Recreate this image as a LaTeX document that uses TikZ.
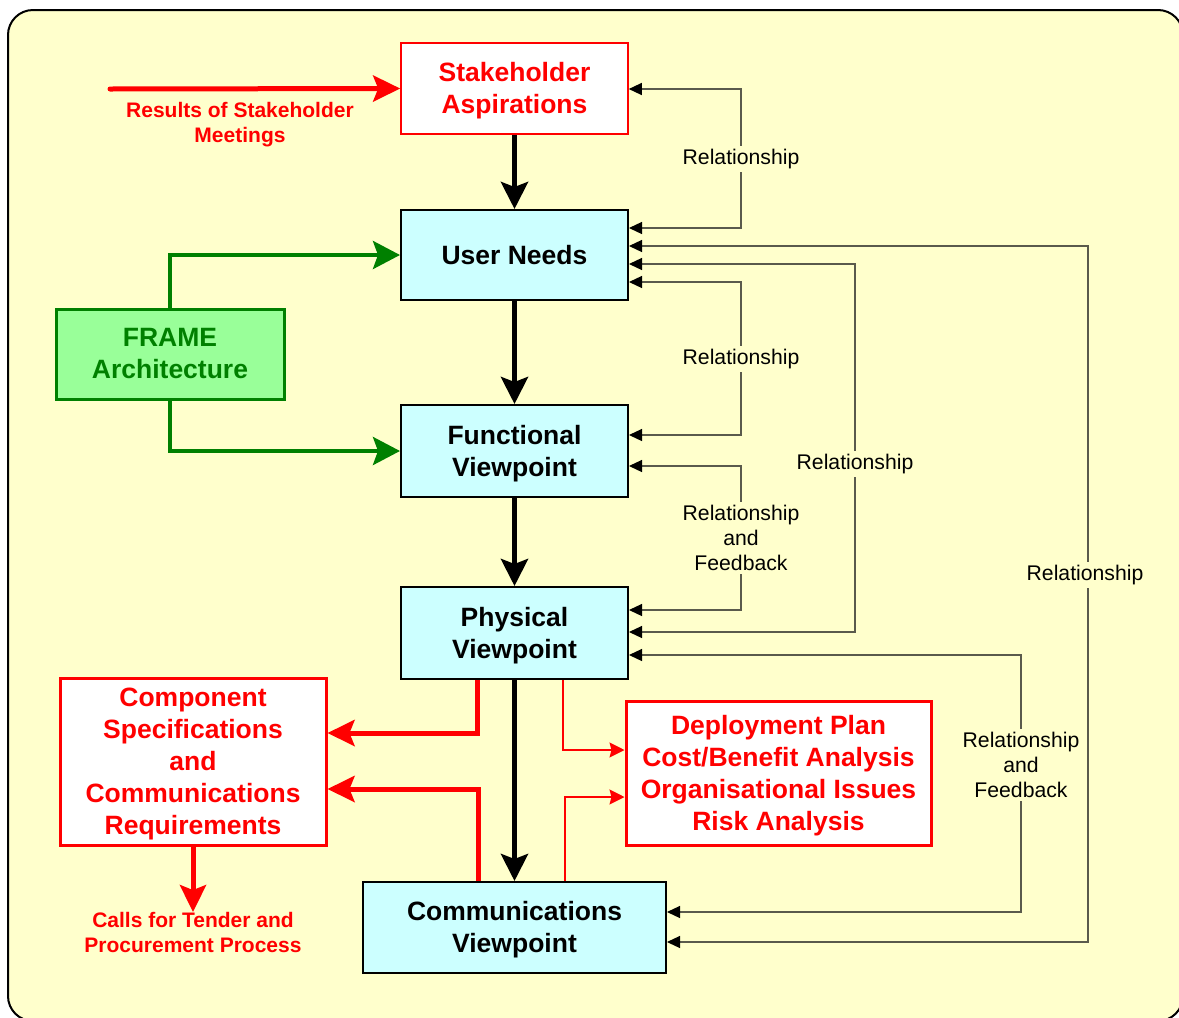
\documentclass[tikz,border=0pt]{standalone}
\usepackage{fontspec}
\setmainfont{Liberation Sans}
\usetikzlibrary{arrows.meta,calc}

\definecolor{bgyellow}{HTML}{FFFFCC}
\definecolor{cyanfill}{HTML}{CCFFFF}
\definecolor{greenfill}{HTML}{99FF99}
\definecolor{darkgreen}{HTML}{008000}
\definecolor{brightred}{HTML}{FF0000}
\definecolor{relgray}{HTML}{5A5A4C}

\newcommand\boxfont{\fontsize{13.25}{16}\selectfont\bfseries}
\newcommand\labfont{\fontsize{10.6}{12.6}\selectfont}
\newcommand\redlabfont{\fontsize{10.5}{12.3}\selectfont\bfseries}
% strut on the first line of a multi-line box, to sit the text a little lower
\newcommand\firstln{\rule{0pt}{11.8pt}}

\tikzset{
  viewbox/.style={draw=black, line width=1pt, fill=cyanfill, align=center,
    inner sep=0pt, font=\boxfont, text=black},
  redbox/.style={draw=brightred, line width=1.5pt, fill=white, align=center,
    inner sep=0pt, font=\boxfont, text=brightred},
  greenbox/.style={draw=darkgreen, line width=1.5pt, fill=greenfill, align=center,
    inner sep=0pt, font=\boxfont, text=darkgreen},
  mainflow/.style={line width=2.5pt, draw=black,
    -{Stealth[length=13.5pt,width=13.5pt,inset=2.5pt]}},
  redflow/.style={line width=2.5pt, draw=brightred,
    -{Stealth[length=13.5pt,width=13pt,inset=2.5pt]}},
  greenflow/.style={line width=2pt, draw=darkgreen,
    -{Stealth[length=13.5pt,width=14pt,inset=2.5pt]}},
  thinred/.style={line width=0.65pt, draw=brightred,
    -{Stealth[length=7.5pt,width=7.5pt,inset=1pt]}},
  rel/.style={line width=0.6pt, draw=relgray,
    {Triangle[length=6.5pt,width=6pt,fill=black,color=black]}-{Triangle[length=6.5pt,width=6pt,fill=black,color=black]}},
  rellabel/.style={fill=bgyellow, align=center, font=\labfont, text=black, inner sep=1.5pt},
  redlabel/.style={align=center, font=\redlabfont, text=brightred, inner sep=0pt},
}

\begin{document}
\begin{tikzpicture}[x=0.5pt, y=-0.5pt]
  \useasboundingbox (0,0) rectangle (1179,1018);

  % background panel
  \draw[line width=1pt, fill=bgyellow, rounded corners=12.5pt] (8,10) rectangle (1183,1021);

  % main chain of viewpoints
  \node[redbox, line width=0.8pt, minimum width=113.5pt, minimum height=45.5pt] (stake) at (514.5,88.5) {\firstln Stakeholder\\Aspirations};
  \node[viewbox, minimum width=113.5pt, minimum height=45pt] (user) at (514.5,255) {User Needs};
  \node[viewbox, minimum width=113.5pt, minimum height=46pt] (func) at (514.5,451) {\firstln Functional\\Viewpoint};
  \node[viewbox, minimum width=113.5pt, minimum height=46pt] (phys) at (514.5,633) {\firstln Physical\\Viewpoint};
  \node[viewbox, minimum width=151.5pt, minimum height=45.5pt] (comm) at (514.5,927.5) {\firstln Communications\\Viewpoint};

  % side boxes
  \node[greenbox, minimum width=114pt, minimum height=45pt] (frame) at (170,354) {FRAME\\Architecture};
  \node[redbox, minimum width=133pt, minimum height=83.5pt] (comp) at (193,761.5) {\firstln Component\\Specifications\\and\\Communications\\Requirements};
  \node[redbox, minimum width=152.5pt, minimum height=72pt] (deploy) at (778.5,773) {\firstln Deployment Plan\\Cost/Benefit Analysis\\Organisational Issues\\Risk Analysis};

  % inputs and outputs
  \coordinate (meetings) at (110,89);
  \draw[redflow, line cap=round] (meetings) -- (stake.west);
  \node[redlabel] (meetlabel) at (240,124.5) {Results of Stakeholder\\Meetings};

  \node[redlabel] (calls) at (193,932.5) {Calls for Tender and\\Procurement Process};
  \draw[redflow] (comp.south) -- (calls.north);

  % main downward flow
  \draw[mainflow] (stake) -- (user);
  \draw[mainflow] (user) -- (func);
  \draw[mainflow] (func) -- (phys);
  \draw[mainflow] (phys) -- (comm);

  % architecture feeds
  \draw[greenflow] (frame.north) |- (user.west);
  \draw[greenflow] (frame.south) |- (func.west);

  % specifications
  \draw[redflow] (phys.south -| 477,0) |- (comp.east |- 0,733);
  \draw[redflow] (comm.north -| 478,0) |- (comp.east |- 0,789);

  % deployment outputs
  \draw[thinred] (phys.south -| 563,0) |- (deploy.west |- 0,750);
  \draw[thinred] (comm.north -| 565,0) |- (deploy.west |- 0,797);

  % relationships between viewpoints
  \draw[rel] (user.east |- 0,228) -- (741,228) -- (741,89) -- (stake.east |- 0,89);
  \node[rellabel] (r1) at (741,159) {Relationship};

  \draw[rel] (user.east |- 0,246) -- (1088,246) -- (1088,942) -- (comm.east |- 0,942);
  \node[rellabel] (r2) at (1085,575) {Relationship};

  \draw[rel] (user.east |- 0,264) -- (855,264) -- (855,632) -- (phys.east |- 0,632);
  \node[rellabel] (r3) at (855,464) {Relationship};

  \draw[rel] (user.east |- 0,282) -- (741,282) -- (741,435) -- (func.east |- 0,435);
  \node[rellabel] (r4) at (741,359) {Relationship};

  \draw[rel] (func.east |- 0,466) -- (741,466) -- (741,610) -- (phys.east |- 0,610);
  \node[rellabel] (r5) at (741,538) {Relationship\\and\\Feedback};

  \draw[rel] (phys.east |- 0,655) -- (1021,655) -- (1021,912) -- (comm.east |- 0,912);
  \node[rellabel] (r6) at (1021,765) {Relationship\\and\\Feedback};
\end{tikzpicture}
\end{document}
